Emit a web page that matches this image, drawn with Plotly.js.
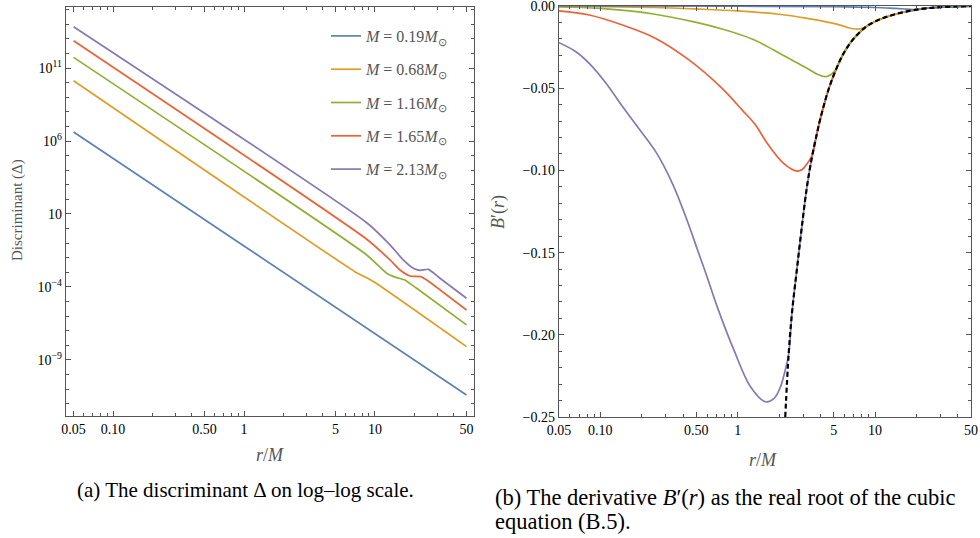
<!DOCTYPE html>
<html>
<head>
<meta charset="utf-8">
<script src="https://cdn.plot.ly/plotly-3.0.1.min.js"></script>
<style>html,body{margin:0;padding:0;background:#fff;}#plot{width:980px;height:538px;}</style>
</head>
<body>
<div id="plot"></div>
<script>
// ---------- Panel (a): discriminant, log-log ----------
const massLabels = ["0.19", "0.68", "1.16", "1.65", "2.13"];
const colors = ["#5E81B5", "#E19C24", "#8FB032", "#EB6235", "#8778B3"];

const rA_019 = [0.05, 1, 50];
const dA_019 = [4.17e6, 6.46e-2, 3.98e-12];
const rA_068 = [0.05, 7.03, 8.32, 10, 33.1, 50];
const dA_068 = [1.35e10, 1.12e-3, 5.01e-4, 2.00e-4, 1.12e-7, 8.13e-9];
const rA_116 = [0.05, 8.65, 12.27, 14.66, 16.94, 20.80, 50];
const dA_116 = [5.37e11, 1.55e-2, 8.71e-4, 4.37e-4, 3.02e-4, 8.13e-5, 2.51e-7];
const rA_165 = [0.05, 8.65, 13.03, 15.52, 18.49, 22.34, 24.83, 50];
const dA_165 = [7.41e12, 0.186, 7.08e-3, 1.45e-3, 5.62e-4, 5.13e-4, 3.02e-4, 2.63e-6];
const rA_213 = [0.05, 8.65, 13.03, 16.44, 19.59, 22.08, 25.53, 31.33, 50];
const dA_213 = [6.76e13, 2.51, 7.59e-2, 7.08e-3, 1.91e-3, 1.38e-3, 1.62e-3, 3.98e-4, 1.70e-5];

const xTickVals = [0.05, 0.1, 0.5, 1, 5, 10, 50];
const xTickText = ["0.05", "0.10", "0.50", "1", "5", "10", "50"];
const xMinorVals = [0.06,0.07,0.08,0.09,0.2,0.3,0.4,0.6,0.7,0.8,0.9,2,3,4,6,7,8,9,20,30,40];
const yTickValsA = [1e-9, 1e-4, 10, 1e6, 1e11];
const yTickTextA = ["10<sup>−9</sup>", "10<sup>−4</sup>", "10", "10<sup>6</sup>", "10<sup>11</sup>"];

// ---------- Panel (b): B'(r) ----------
const rEnv = [2.22, 2.35, 2.49, 2.70, 2.95, 3.20, 3.50, 3.80, 4.0, 4.6, 5.28, 6.0, 6.97, 8.7, 10.5, 12.9, 16, 20, 25, 30, 40, 50];
const bEnv = [-0.25, -0.212, -0.186, -0.160, -0.1325, -0.1095, -0.0905, -0.0765, -0.0685, -0.0505, -0.0373, -0.0278, -0.0200, -0.0123, -0.0086, -0.0059, -0.0038, -0.0022, -0.0012, -0.0007, -0.0003, -0.0001];

const rB_019 = [0.05, 1, 5, 10, 14, 17];
const bB_019 = [0, -0.0001, -0.0004, -0.0009, -0.0015, -0.0019];
const rB_068 = [0.05, 0.1, 0.25, 0.5, 1.0, 2.0, 3.2, 4.5, 5.57, 6.4, 7.2, 8.0];
const bB_068 = [-0.0002, -0.0004, -0.0009, -0.0018, -0.0030, -0.0050, -0.0075, -0.0098, -0.0116, -0.0132, -0.0140, -0.0137];
const rB_116 = [0.05, 0.1, 0.25, 0.5, 0.77, 1.05, 1.35, 1.83, 2.5, 3.2, 3.8, 4.34, 4.7, 5.0];
const bB_116 = [-0.0006, -0.0015, -0.0050, -0.0100, -0.0140, -0.0175, -0.0210, -0.0268, -0.0330, -0.0379, -0.0415, -0.0430, -0.0421, -0.0402];
const rB_165 = [0.05, 0.083, 0.145, 0.253, 0.442, 0.77, 1.08, 1.35, 1.64, 2.16, 2.70, 2.95, 3.2, 3.4];
const bB_165 = [-0.0030, -0.0055, -0.0116, -0.0197, -0.0328, -0.0501, -0.0633, -0.0724, -0.0835, -0.0957, -0.1004, -0.0995, -0.0960, -0.0925];
const rB_213 = [0.05, 0.0664, 0.083, 0.11, 0.145, 0.19, 0.253, 0.335, 0.442, 0.508, 0.60, 0.71, 0.938, 1.24, 1.59, 1.85, 2.05, 2.22];
const bB_213 = [-0.0223, -0.0278, -0.0349, -0.0470, -0.0612, -0.0744, -0.0886, -0.1080, -0.1335, -0.1480, -0.1650, -0.1830, -0.2092, -0.2316, -0.2407, -0.2385, -0.2316, -0.2215];

const yTickValsB = [-0.25, -0.20, -0.15, -0.10, -0.05, 0.00];
const yTickTextB = ["−0.25", "−0.20", "−0.15", "−0.10", "−0.05", "0.00"];

// ---------- build traces ----------
const serif = "Liberation Serif, Times New Roman, serif";
const rA = [rA_019, rA_068, rA_116, rA_165, rA_213];
const dA = [dA_019, dA_068, dA_116, dA_165, dA_213];
const rB = [rB_019, rB_068, rB_116, rB_165, rB_213];
const bB = [bB_019, bB_068, bB_116, bB_165, bB_213];

const traces = [];
for (let i = 0; i < 5; i++) {
  traces.push({
    x: rA[i], y: dA[i], type: "scatter", mode: "lines",
    xaxis: "x", yaxis: "y",
    line: {color: colors[i], width: 1.7, shape: "spline", smoothing: 0.5},
    name: "<i>M</i> = " + massLabels[i] + "<i>M</i><sub>⊙</sub>",
    legendgroup: "g" + i, showlegend: true
  });
}
for (let i = 4; i >= 0; i--) {
  const last = rB[i][rB[i].length - 1];
  const xs = rB[i].slice(), ys = bB[i].slice();
  for (let k = 0; k < rEnv.length; k++) {
    if (rEnv[k] > last) { xs.push(rEnv[k]); ys.push(bEnv[k]); }
  }
  traces.push({
    x: xs, y: ys, type: "scatter", mode: "lines",
    xaxis: "x2", yaxis: "y2",
    line: {color: colors[i], width: 1.7, shape: "spline", smoothing: 1},
    showlegend: false
  });
}
traces.push({
  x: rEnv, y: bEnv, type: "scatter", mode: "lines",
  xaxis: "x2", yaxis: "y2",
  line: {color: "#000", width: 2.2, dash: "5px,3px", shape: "spline", smoothing: 1},
  showlegend: false
});

const W = 980, H = 538;
const px = v => v / W, py = v => 1 - v / H;
const frameCol = "#555";
const tickFont = {family: serif, size: 14, color: "#000"};

function logAxis(domain, range, tv, tt, minorVals) {
  return {
    type: "log", domain: domain, range: range,
    tickmode: "array", tickvals: tv, ticktext: tt,
    ticks: "inside", ticklen: 5, tickwidth: 1, tickcolor: frameCol,
    minor: {tickmode: "array", tickvals: minorVals, ticks: "inside", ticklen: 3, tickcolor: frameCol, showgrid: false},
    showline: true, linecolor: frameCol, linewidth: 1.2, mirror: "ticks",
    showgrid: false, zeroline: false, tickfont: tickFont, fixedrange: true,
    ticklabeloverflow: "allow"
  };
}

const yMinorA = [];
for (let e = -12; e <= 15; e++) { if (![-9, -4, 1, 6, 11].includes(e)) yMinorA.push(Math.pow(10, e)); }
const yMinorB = [];
for (let k = -24; k <= -1; k++) { if (k % 5 !== 0) yMinorB.push(k / 100); }

const titleFont = {family: serif, size: 18, color: "#555"};

const layout = {
  width: W, height: H,
  margin: {l: 0, r: 0, t: 0, b: 0, pad: 0},
  paper_bgcolor: "#fff", plot_bgcolor: "#fff",
  showlegend: true,
  legend: {
    x: px(326), y: py(19), xanchor: "left", yanchor: "top",
    bgcolor: "rgba(0,0,0,0)", borderwidth: 0,
    font: {family: serif, size: 16, color: "#555"},
    tracegroupgap: 9.5, itemwidth: 30
  },
  xaxis: Object.assign(logAxis([px(66), px(474)], [-1.359, 1.756], xTickVals, xTickText, xMinorVals), {anchor: "y"}),
  yaxis: Object.assign(logAxis([py(416), py(7)], [-12.84, 15.18], yTickValsA, yTickTextA, yMinorA), {anchor: "x"}),
  xaxis2: Object.assign(logAxis([px(559), px(971)], [Math.log10(0.05), Math.log10(50)], xTickVals, xTickText, xMinorVals), {anchor: "y2"}),
  yaxis2: {
    domain: [py(417), py(6)], range: [-0.25, 0], anchor: "x2",
    tickmode: "array", tickvals: yTickValsB, ticktext: yTickTextB,
    ticks: "inside", ticklen: 5, tickwidth: 1, tickcolor: frameCol,
    minor: {tickmode: "array", tickvals: yMinorB, ticks: "inside", ticklen: 3, tickcolor: frameCol, showgrid: false},
    showline: true, linecolor: frameCol, linewidth: 1.2, mirror: "ticks",
    showgrid: false, zeroline: false, tickfont: tickFont, fixedrange: true,
    ticklabeloverflow: "allow"
  },
  annotations: [
    {text: "Discriminant (Δ)", xref: "paper", yref: "paper", x: px(17), y: py(210), textangle: -90,
     showarrow: false, font: {family: serif, size: 15, color: "#555"}, xanchor: "center", yanchor: "middle"},
    {text: "<i>r</i>/<i>M</i>", xref: "paper", yref: "paper", x: px(270), y: py(455),
     showarrow: false, font: titleFont, xanchor: "center", yanchor: "middle"},
    {text: "<i>B</i>′(<i>r</i>)", xref: "paper", yref: "paper", x: px(499), y: py(212), textangle: -90,
     showarrow: false, font: titleFont, xanchor: "center", yanchor: "middle"},
    {text: "<i>r</i>/<i>M</i>", xref: "paper", yref: "paper", x: px(763), y: py(460),
     showarrow: false, font: titleFont, xanchor: "center", yanchor: "middle"},
    {text: "(a) The discriminant Δ on log–log scale.", xref: "paper", yref: "paper", x: px(75), y: py(490),
     showarrow: false, font: {family: serif, size: 21, color: "#000"}, xanchor: "left", yanchor: "middle"},
    {text: "(b) The derivative <i>B</i>′(<i>r</i>) as the real root of the cubic", xref: "paper", yref: "paper", x: px(493), y: py(497),
     showarrow: false, font: {family: serif, size: 22.5, color: "#000"}, xanchor: "left", yanchor: "middle"},
    {text: "equation (B.5).", xref: "paper", yref: "paper", x: px(493), y: py(521),
     showarrow: false, font: {family: serif, size: 22.5, color: "#000"}, xanchor: "left", yanchor: "middle"}
  ]
};

Plotly.newPlot("plot", traces, layout, {staticPlot: true, displayModeBar: false});
</script>
</body>
</html>
